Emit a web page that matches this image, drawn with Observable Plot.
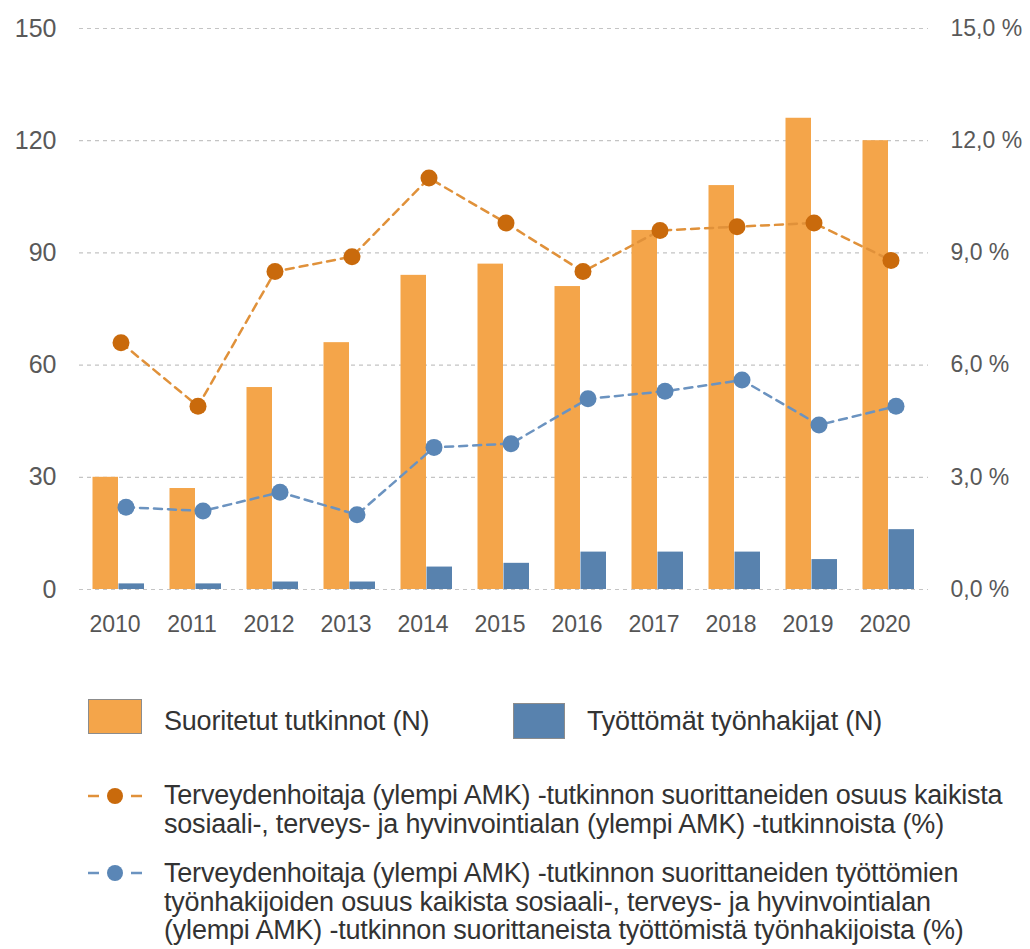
<!DOCTYPE html>
<html>
<head>
<meta charset="utf-8">
<script src="https://cdn.jsdelivr.net/npm/d3@7"></script>
<script src="https://cdn.jsdelivr.net/npm/@observablehq/plot@0.6"></script>
<style>
  html, body { margin: 0; padding: 0; background: #fff; }
  #wrap { position: relative; width: 1030px; height: 949px; font-family: "Liberation Sans", Arial, sans-serif; }
  .lg { position: absolute; color: #333; font-size: 27px; letter-spacing: -0.2px; line-height: 28.5px; white-space: nowrap; }
  .box { position: absolute; box-sizing: border-box; border: 1.5px solid #8c8c8c; }
  .mk { position: absolute; }
</style>
</head>
<body>
<div id="wrap"></div>
<script>
const years = [2010, 2011, 2012, 2013, 2014, 2015, 2016, 2017, 2018, 2019, 2020];
const degrees = [30, 27, 54, 66, 84, 87, 81, 96, 108, 126, 120];
const unemployed = [1.5, 1.5, 2, 2, 6, 7, 10, 10, 10, 8, 16];
const degreeShare = [6.6, 4.9, 8.5, 8.9, 11.0, 9.8, 8.5, 9.6, 9.7, 9.8, 8.8];
const unemployedShare = [2.2, 2.1, 2.6, 2.0, 3.8, 3.9, 5.1, 5.3, 5.6, 4.4, 4.9];
const leftTicks = [0, 30, 60, 90, 120, 150];
const rightTicks = [0, 3, 6, 9, 12, 15];
const seriesNames = ["Suoritetut tutkinnot (N)", "Työttömät työnhakijat (N)"];
const lineNames = [
  ["Terveydenhoitaja (ylempi AMK) -tutkinnon suorittaneiden osuus kaikista",
   "sosiaali-, terveys- ja hyvinvointialan (ylempi AMK) -tutkinnoista (%)"],
  ["Terveydenhoitaja (ylempi AMK) -tutkinnon suorittaneiden työttömien",
   "työnhakijoiden osuus kaikista sosiaali-, terveys- ja hyvinvointialan",
   "(ylempi AMK) -tutkinnon suorittaneista työttömistä työnhakijoista (%)"]
];

const C = {
  orangeBar: "#F4A54A", blueBar: "#5882AE",
  orangeDot: "#C96A0C", orangeLine: "#E0913A",
  blueDot: "#5A86B6", blueLine: "#6B93C0"
};

const rows = years.map((year, i) => ({
  year, degrees: degrees[i], unemployed: unemployed[i],
  degreeShare: degreeShare[i], unemployedShare: unemployedShare[i]
}));

// right axis (%) mapped onto left scale: 15 % <-> 150
const k = 10;

const chart = Plot.plot({
  width: 1030,
  height: 650,
  marginLeft: 79,
  marginRight: 102,
  marginTop: 28,
  marginBottom: 61,
  style: { fontFamily: "'Liberation Sans', Arial, sans-serif", fontSize: "23px", color: "#595959", background: "transparent" },
  x: { type: "band", domain: years, padding: 0 },
  y: { domain: [0, 150] },
  marks: [
    Plot.ruleY(leftTicks, { stroke: "#c4c4c4", strokeWidth: 1.2, strokeDasharray: "4,4" }),
    Plot.barY(rows, { x: "year", y: "degrees", fill: C.orangeBar, insetLeft: 12.5, insetRight: 39 }),
    Plot.barY(rows, { x: "year", y: "unemployed", fill: C.blueBar, insetLeft: 38.5, insetRight: 13 }),
    Plot.line(rows, { x: "year", y: d => d.degreeShare * k, stroke: C.orangeLine, strokeWidth: 2.5, strokeDasharray: "8,6", dx: 2 }),
    Plot.dot(rows, { x: "year", y: d => d.degreeShare * k, r: 8.5, fill: C.orangeDot, dx: 2 }),
    Plot.line(rows, { x: "year", y: d => d.unemployedShare * k, stroke: C.blueLine, strokeWidth: 2.5, strokeDasharray: "8,6", dx: 7 }),
    Plot.dot(rows, { x: "year", y: d => d.unemployedShare * k, r: 8.5, fill: C.blueDot, dx: 7 }),
    Plot.axisY(leftTicks, { anchor: "left", tickSize: 0, tickPadding: 23, label: null, fill: "#595959", fontSize: 25 }),
    Plot.axisY(rightTicks.map(d => d * k), { anchor: "right", tickSize: 0, tickPadding: 22, label: null, fill: "#595959",
      tickFormat: d => (d / k).toFixed(1).replace(".", ",") + " %" }),
    Plot.axisX({ tickSize: 0, tickPadding: 26, dx: -4, label: null, fill: "#555", tickFormat: d => String(d) })
  ]
});

const wrap = document.getElementById("wrap");
chart.style.position = "absolute";
chart.style.left = "0px";
chart.style.top = "0px";
wrap.appendChild(chart);

function add(html) { wrap.insertAdjacentHTML("beforeend", html); }

// bar legend
add(`<div class="box" style="left:88px;top:699px;width:54px;height:35px;background:${C.orangeBar}"></div>`);
add(`<div class="lg" style="left:164px;top:707px">${seriesNames[0]}</div>`);
add(`<div class="box" style="left:513px;top:703px;width:52px;height:36px;background:${C.blueBar}"></div>`);
add(`<div class="lg" style="left:587px;top:707px">${seriesNames[1]}</div>`);

// line legend
function marker(top, line, dot) {
  return `<svg class="mk" style="left:88px;top:${top - 10}px" width="56" height="20">
    <line x1="0" y1="10" x2="11" y2="10" stroke="${line}" stroke-width="2.5"/>
    <circle cx="27" cy="10" r="8" fill="${dot}"/>
    <line x1="43" y1="10" x2="54" y2="10" stroke="${line}" stroke-width="2.5"/>
  </svg>`;
}
add(marker(796, C.orangeLine, C.orangeDot));
add(`<div class="lg" style="left:164px;top:781px">${lineNames[0].join("<br>")}</div>`);
add(marker(873, C.blueLine, C.blueDot));
add(`<div class="lg" style="left:164px;top:859px">${lineNames[1].join("<br>")}</div>`);
</script>
</body>
</html>
